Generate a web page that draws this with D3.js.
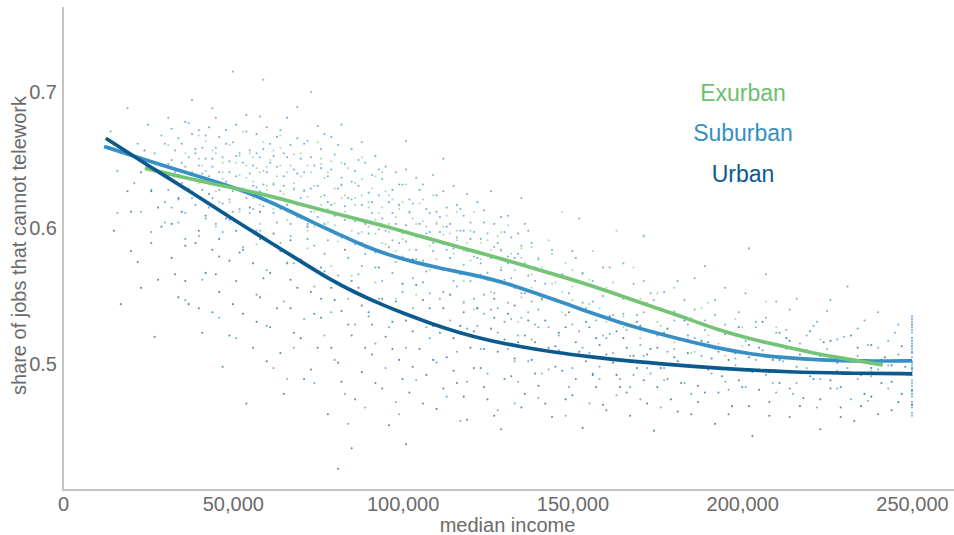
<!DOCTYPE html>
<html>
<head>
<meta charset="utf-8">
<script src="https://cdn.jsdelivr.net/npm/d3@7"></script>
<style>
  html, body { margin: 0; padding: 0; background: #fff; }
  svg { display: block; font-family: "Liberation Sans", Arial, sans-serif; }
</style>
</head>
<body>
<svg id="chart" width="954" height="535"></svg>
<script>
// ---------- data ----------
const seriesNames = ["Exurban", "Suburban", "Urban"];
const xTicks = [0, 50000, 100000, 150000, 200000, 250000];
const yTicks = [0.5, 0.6, 0.7];

// smoothed trend lines: [income (thousands), share]
const urbanCurve = [[12.6,.666],[25,.646],[38,.626],[50,.6065],[60,.591],[70,.5755],[78,.563],[86,.5525],[94,.5435],[100,.5375],[108,.530],[116,.5235],[125,.5175],[135,.5125],[145,.5085],[155,.5053],[165,.5025],[175,.5003],[188,.4978],[200,.4958],[213,.4942],[230,.4932],[250,.4928]];
const suburbanCurve = [[12.1,.660],[20,.6535],[28.6,.6465],[40,.638],[50,.630],[58,.6225],[66,.6135],[74,.6035],[81.6,.595],[88,.5875],[96,.580],[104,.5745],[111,.5705],[118,.567],[126,.5625],[133,.5575],[140.5,.551],[148,.5445],[155,.538],[164,.5305],[172,.5245],[182,.518],[193,.5115],[203,.507],[213,.5045],[223,.503],[235,.502],[250,.5024]];
const exurbanCurve = [[24.1,.644],[35,.6375],[45,.632],[58,.6255],[70,.6175],[81.6,.6096],[90,.6045],[96,.6005],[103,.5955],[111,.590],[118,.585],[126,.5795],[133,.5745],[140.5,.569],[148,.5635],[155,.558],[164,.5505],[172,.5435],[182,.535],[193.5,.5245],[203,.518],[213,.5125],[222,.5075],[230,.504],[241.4,.4993]];

// scatter points: flat list of income (thousands), share (thousandths)
const exurbanPts = [28,648,31,661,34,639,36,655,38,627,40,668,41,646,43,633,44,657,46,619,47,641,48,662,50,630,51,648,52,612,53,671,54,637,55,655,56,622,57,644,58,603,59,663,60,631,61,650,62,614,63,638,64,659,65,625,66,606,67,646,68,633,69,617,70,655,71,628,72,598,73,641,74,612,75,663,76,623,77,637,78,604,79,649,80,618,81,590,82,631,83,612,84,644,85,598,86,622,87,607,88,636,89,585,90,615,91,629,92,596,93,611,94,641,95,588,96,603,97,621,98,579,99,614,100,596,101,632,102,584,103,607,104,593,105,618,106,574,107,601,108,587,109,624,110,570,112,595,113,609,115,581,116,598,118,566,119,589,121,612,123,577,125,591,127,561,129,583,131,602,133,569,135,585,138,556,140,578,143,591,145,560,148,574,150,547,153,566,156,583,158,541,162,560,165,535,168,571,172,545,176,528,180,556,184,521,188,541,193,515,198,533,204,508,210,527,216,498,223,518,230,505,238,495,57,588,66,575,79,572,92,560,104,551,118,546,134,531,147,612,163,598,186,509,207,546,121,540,98,548,85,565,72,585,45,601,64,668,76,651,88,652,59,642,83,624,95,627,110,603,128,594,
40,651,40,633,42,642,42,664,45,627,45,655,47,648,47,636,49,661,49,619,52,639,52,653,54,626,54,646,56,652,56,634,58,617,58,641,60,645,60,628,62,633,62,657,64,621,64,646,66,641,66,612,68,628,68,654,70,607,70,638,72,646,72,623,74,631,74,601,76,617,76,647,78,641,78,614,80,602,80,629,82,622,82,648,84,609,84,593,86,633,86,617,88,597,88,624,90,619,90,601,92,606,92,638,94,589,94,615,96,624,96,597,98,608,98,583,100,592,100,619,102,611,102,576,104,584,104,603,106,605,106,621,108,593,108,569,110,577,110,604,112,601,112,588,114,569,114,596,116,591,116,612,118,583,118,561,120,598,120,576,123,566,123,589,126,584,126,553,129,571,129,597,132,559,132,581,135,578,135,549,138,566,138,586,141,547,141,571,144,581,144,559,147,553,147,538,150,569,150,557,155,544,155,562,160,556,160,531,165,527,165,549,170,548,170,519,175,531,175,552,180,516,180,539,185,534,185,508,190,521,190,545,195,506,195,529,200,527,200,513];

const suburbanPts = [14,671,16,642,18,655,19,688,21,633,22,662,23,612,24,649,25,676,26,628,27,655,28,641,29,668,30,619,31,681,32,650,33,634,34,604,35,662,36,645,37,677,38,622,39,658,40,594,41,640,42,668,43,615,44,651,45,681,46,628,47,597,48,662,49,641,50,612,50,715,51,653,52,629,53,586,54,671,55,640,56,614,57,655,58,598,58,682,59,632,59,709,60,569,61,648,62,611,63,667,64,589,65,631,66,652,67,603,68,574,69,640,70,617,71,662,72,592,73,629,74,557,75,608,76,644,77,581,78,619,79,667,80,596,81,565,82,632,83,606,84,548,85,621,86,588,87,650,88,572,89,603,90,535,91,619,92,582,93,643,94,561,95,598,96,527,97,611,98,575,99,632,100,553,101,590,102,612,103,541,104,577,105,628,106,560,107,596,108,519,109,583,110,612,111,548,112,569,113,601,114,532,115,585,116,557,117,614,118,573,119,526,120,592,121,548,122,578,123,511,124,604,125,562,126,540,127,586,128,523,129,569,130,597,131,545,132,563,133,502,134,581,135,534,136,552,137,598,138,518,139,571,140,540,141,493,142,559,143,527,144,584,145,548,146,510,147,566,148,536,149,552,150,497,151,578,152,524,153,545,155,508,156,561,157,532,158,489,159,550,160,519,161,571,162,536,164,502,165,548,166,525,167,483,168,559,170,514,171,538,172,497,173,552,175,521,176,541,177,488,178,509,180,532,181,561,182,499,184,518,185,478,186,540,188,506,189,525,191,493,192,547,194,512,195,529,196,481,198,504,199,538,201,517,203,494,204,531,206,510,207,566,209,486,210,523,212,502,214,540,215,478,217,515,219,497,221,528,223,489,225,511,226,547,228,495,230,520,232,474,234,506,236,532,238,491,240,512,243,499,245,523,250,535,250,531,250,527,250,523,250,519,250,515,250,511,250,508,250,505,250,502,250,499,250,496,250,492,250,488,250,484,250,480,250,476,250,472,250,468,250,464,44,688,69,689,82,676,101,664,112,651,135,622,152,607,171,594,189,572,202,585,73,700,38,694,64,614,77,603,87,566,97,591,118,598,131,579,57,630,49,621,36,592,26,597,16,611,
30,662,30,604,31,647,31,628,32,673,32,615,33,641,33,657,34,666,34,621,35,633,35,648,36,678,36,611,37,652,37,629,38,669,38,641,39,617,39,655,40,646,40,672,41,628,41,659,42,651,42,607,43,674,43,638,44,622,44,645,45,659,45,603,46,641,46,667,47,618,47,652,48,672,48,634,49,649,49,606,50,663,50,627,51,638,51,676,52,655,52,614,53,629,53,648,54,683,54,622,55,611,55,657,56,646,56,631,57,669,57,598,58,627,58,652,59,658,59,616,60,641,60,674,61,619,61,662,62,653,62,632,63,604,63,645,64,672,64,627,65,638,65,655,66,617,66,681,67,661,67,594,68,643,68,629,69,608,69,666,70,651,70,622,71,627,71,641,72,664,72,603,73,612,73,652,74,646,74,587,75,631,75,675,76,601,76,658,77,669,77,624,78,638,78,591,79,617,79,643,80,654,80,609,81,629,81,661,82,593,82,637,83,647,83,616,84,622,84,578,85,658,85,634,86,605,86,642,87,631,87,596,88,617,88,663,89,648,89,581,90,596,90,626,91,639,91,611,92,571,92,653,93,624,93,599,94,607,94,636,95,645,95,582,96,586,96,619,97,628,97,567,98,603,98,641,99,617,99,589,100,579,100,632,101,643,101,602,102,596,102,621,103,618,103,563,104,584,104,637,105,603,105,594,106,632,106,576,107,568,107,614,108,611,108,597,109,589,109,639,110,624,110,571,111,597,111,608,112,553,112,627,113,615,113,584,114,578,114,603,115,631,115,561,116,593,116,617,117,566,117,598,118,609,118,545,119,583,119,625,120,561,120,604,121,597,121,579,122,619,122,541,123,574,123,592,124,551,124,613,125,596,125,567,126,578,126,627,127,603,127,552,128,541,128,589,129,584,129,608,130,562,130,531,131,609,131,574,132,533,132,593,133,578,133,556,134,596,134,521,135,552,135,587,136,574,136,603,137,538,137,565,138,589,138,546,139,561,139,511,140,527,140,577,
150,583,150,529,153,512,153,567,156,546,156,493,159,571,159,521,162,508,162,552,165,537,165,574,168,492,168,528,171,561,171,506,174,524,174,547,177,553,177,497,180,511,180,538,183,547,183,486,186,519,186,563,189,498,189,532,192,536,192,511,195,487,195,556,198,521,198,499,201,552,201,483,204,503,204,527,207,534,207,492,210,479,210,546,213,511,213,525,216,548,216,486,219,494,219,521,222,531,222,468,225,503,225,539,228,518,228,482,231,557,231,497,234,489,234,526,237,514,237,473,240,538,240,496,243,482,243,517,246,507,246,529,
250,533,250,525,250,517,250,509,250,501,250,494,250,486,250,478,250,470,250,462,
60,528,62,497,65,546,68,512,71,533,74,486,77,521,80,503,83,478,86,529,89,468,92,515,95,497,98,472,101,512,104,488,107,527,110,501,113,476,116,509,119,487,122,528,125,493,128,466,131,511,134,487,137,502,140,475,143,496,146,521,149,483,152,507,155,471,158,498,161,522,164,489,167,506,170,474,173,493,176,468,79,538,93,548,108,552,124,537,139,529,154,541,169,536,184,529,66,489,84,456,99,463,117,458,133,471,148,462,163,477,57,551,51,519,46,534,41,562,36,547];

const urbanPts = [15,598,17,544,19,627,22,575,24,657,27,520,29,601,31,638,33,566,35,612,37,544,39,589,41,523,43,625,45,566,47,498,48,607,50,544,52,582,54,471,55,615,57,531,59,563,60,502,62,596,63,541,65,478,66,574,68,523,69,556,71,489,72,601,74,537,75,512,77,568,78,463,80,547,81,501,83,584,84,529,86,474,87,556,89,512,90,538,92,486,93,571,95,520,96,455,98,546,99,503,101,532,102,479,104,558,105,511,107,492,108,541,110,467,111,523,113,505,114,551,116,486,117,528,119,459,120,512,122,541,123,497,125,474,126,526,128,509,129,452,131,537,132,491,134,516,135,468,137,532,138,503,140,484,141,548,143,512,144,461,146,523,147,495,149,538,150,477,152,509,153,453,155,527,156,492,158,514,159,470,161,535,162,501,164,483,165,519,167,462,168,506,170,528,171,488,173,511,174,451,176,497,177,523,179,474,180,505,182,486,183,532,185,463,186,498,188,517,189,479,191,504,192,456,194,491,195,522,197,469,198,508,200,483,202,514,203,447,205,496,206,531,208,472,209,503,211,486,213,519,214,461,216,498,218,475,219,510,221,489,223,452,224,516,226,482,228,501,229,468,231,493,233,458,234,512,236,478,238,497,240,463,242,505,244,487,246,472,248,498,85,438,101,441,81,423,250,529,250,513,250,497,250,481,250,470,46,579,58,612,67,591,76,548,88,589,103,577,114,525,127,548,
20,612,20,583,23,641,23,556,26,589,26,627,28,562,28,615,32,603,32,578,34,549,34,622,36,587,36,561,40,598,40,541,42,567,42,609,44,538,44,584,46,592,46,553,49,521,49,576,51,561,51,598,53,537,53,584,56,574,56,512,58,549,58,592,61,527,61,567,64,583,64,508,67,541,67,562,70,519,70,577,73,553,73,496,76,534,76,571,79,512,79,556,82,539,82,487,85,521,85,561,88,494,88,543,91,529,91,507,94,548,94,482,97,511,97,531,100,489,100,559,103,524,103,498,106,547,106,471,109,503,109,528,112,482,112,541,115,519,115,495,118,538,118,476,121,497,121,524,124,511,124,483,127,534,127,462,130,489,130,518,133,504,133,543,136,478,136,521,139,516,139,493,142,532,142,471,145,498,145,513,148,474,148,527,151,516,151,489,154,531,154,502,157,483,157,519,160,507,160,466,163,524,163,492,166,479,166,512,169,497,169,531,172,471,172,507,175,512,175,483,178,489,178,526,181,465,181,502,184,508,184,521,187,484,187,472,190,516,190,496,193,479,193,509,196,503,196,463,199,488,199,527,202,469,202,505,205,512,205,481,208,494,208,462,211,523,211,503,214,482,214,517,217,507,217,469,220,491,220,524,223,474,223,506,226,517,226,488,229,483,229,461,232,502,232,521,235,469,235,492,238,514,238,476,241,486,241,503,244,499,244,466,247,478,247,513];

// ---------- drawing ----------
const colors = { Exurban: "#74c476", Suburban: "#3690c6", Urban: "#0b5a8e" };
const svg = d3.select("#chart");
const W = 954, H = 535;
const plotTop = 7, plotBottom = 490, plotLeft = 63;

const x = d3.scaleLinear().domain([0, 250000]).range([63, 912]);
const y = d3.scaleLinear().domain([0.5, 0.7]).range([364, 92]);

function pairs(flat) {
  const out = [];
  for (let i = 0; i < flat.length; i += 2) out.push([flat[i] * 1000, flat[i + 1] / 1000]);
  return out;
}
const curves = { Exurban: exurbanCurve, Suburban: suburbanCurve, Urban: urbanCurve };
const points = { Exurban: pairs(exurbanPts), Suburban: pairs(suburbanPts), Urban: pairs(urbanPts) };

// axis lines
const axisColor = "#c4c4c4";
svg.append("line").attr("x1", plotLeft).attr("x2", plotLeft)
  .attr("y1", plotTop).attr("y2", plotBottom + 1)
  .attr("stroke", axisColor).attr("stroke-width", 2);
svg.append("line").attr("x1", plotLeft - 1).attr("x2", W)
  .attr("y1", plotBottom).attr("y2", plotBottom)
  .attr("stroke", axisColor).attr("stroke-width", 2);

// x axis labels
const xAxis = d3.axisBottom(x).tickValues(xTicks).tickSize(0).tickPadding(0)
  .tickFormat(d3.format(","));
const gx = svg.append("g").attr("transform", `translate(0,${plotBottom})`).call(xAxis);
gx.select(".domain").remove();
gx.selectAll("text").attr("dy", null).attr("y", 21).attr("fill", "#6b6b6b")
  .style("font-size", "20px").style("font-family", "'Liberation Sans', Arial, sans-serif");

// y axis labels
const yAxis = d3.axisLeft(y).tickValues(yTicks).tickSize(0).tickPadding(0)
  .tickFormat(d3.format(".1f"));
const gy = svg.append("g").attr("transform", `translate(${plotLeft - 6},0)`).call(yAxis);
gy.select(".domain").remove();
gy.selectAll("text").attr("fill", "#6b6b6b")
  .style("font-size", "20px").style("font-family", "'Liberation Sans', Arial, sans-serif");

// axis titles
svg.append("text").attr("x", (x(0) + x(250000)) / 2 + 20).attr("y", 532)
  .attr("text-anchor", "middle").attr("fill", "#6b6b6b").style("font-size", "20px")
  .text("median income");
svg.append("text").attr("transform", `translate(26,${(plotTop + plotBottom) / 2 - 3}) rotate(-90)`)
  .attr("text-anchor", "middle").attr("fill", "#6b6b6b").style("font-size", "20px")
  .text("share of jobs that cannot telework");

// scatter
const dotOrder = ["Suburban", "Urban", "Exurban"];
const dotColors = { Exurban: "#8fd18d", Suburban: "#4a9acb", Urban: "#1f6a9a" };
dotOrder.forEach(name => {
  svg.append("g").selectAll("circle").data(points[name]).join("circle")
    .attr("cx", d => x(d[0])).attr("cy", d => y(d[1]))
    .attr("r", 1.05)
    .attr("fill", dotColors[name]).attr("fill-opacity", 0.75);
});

// trend lines
const line = d3.line().x(d => x(d[0] * 1000)).y(d => y(d[1])).curve(d3.curveBasis);
["Suburban", "Exurban", "Urban"].forEach(name => {
  svg.append("path").datum(curves[name]).attr("d", line)
    .attr("fill", "none").attr("stroke", colors[name]).attr("stroke-width", 3.7)
    .attr("stroke-linecap", "butt").attr("stroke-linejoin", "round");
});

// legend labels
const legendY = { Exurban: 101, Suburban: 141, Urban: 182 };
const legendColors = { Exurban: "#6cc070", Suburban: "#3690c6", Urban: "#0b5a8e" };
seriesNames.forEach(name => {
  svg.append("text").attr("x", 743).attr("y", legendY[name])
    .attr("text-anchor", "middle").attr("fill", legendColors[name])
    .style("font-size", "23px").text(name);
});
</script>
</body>
</html>
